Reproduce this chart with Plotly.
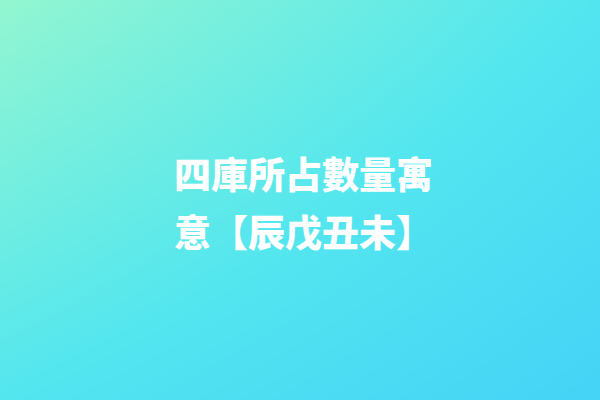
import plotly.graph_objects as go

# background gradient, corner tones (0 = mint top-left, 1 = blue bottom-right)
grid_x = [0, 1]
grid_y = [0, 1]
corner_z = [[0.0, 0.62],
            [0.6, 1.0]]
gradient_stops = [[0.0, '#93f6d0'], [0.6, '#53e6ef'], [1.0, '#45d3f6']]

title_lines = ['四庫所占數量寓', '意【辰戊丑未】']

fig = go.Figure()
fig.add_trace(go.Heatmap(x=grid_x, y=grid_y, z=corner_z,
                         colorscale=gradient_stops, zmin=0, zmax=1,
                         zsmooth='best', showscale=False, hoverinfo='skip'))

line_y = [1 - 173 / 400, 1 - 231 / 400]
for txt, yy in zip(title_lines, line_y):
    fig.add_annotation(text=txt, xref='paper', yref='paper',
                       x=172 / 600, y=yy, xanchor='left', yanchor='middle',
                       showarrow=False,
                       font=dict(family='Noto Sans CJK TC', size=37,
                                 color='white', weight=900))

fig.update_xaxes(visible=False, range=[0, 1])
fig.update_yaxes(visible=False, range=[1, 0])
fig.update_layout(width=600, height=400, margin=dict(l=0, r=0, t=0, b=0),
                  paper_bgcolor='#55e5ef', plot_bgcolor='#55e5ef')

fig.write_html('out.html', config={'displayModeBar': False},
               post_script="document.body.style.margin='0';")
